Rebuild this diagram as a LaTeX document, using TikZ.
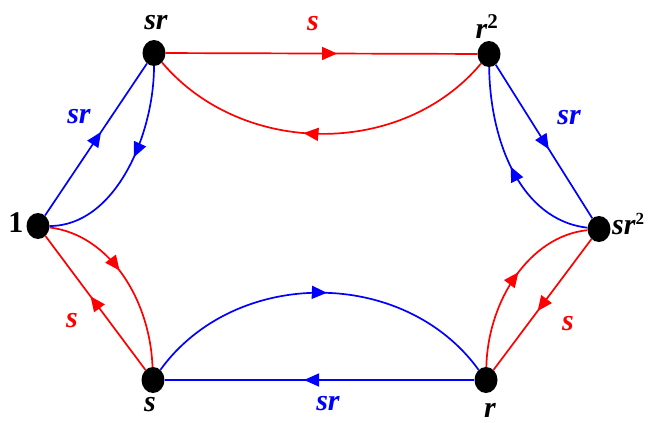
\documentclass[tikz,border=0pt]{standalone}
\usepackage{fontspec}
\setmainfont{Liberation Serif}
\usetikzlibrary{arrows.meta,decorations.markings,shapes.geometric}
\tikzset{
  dot/.style={ellipse, fill=black, draw=none, minimum width=23pt, minimum height=26pt, inner sep=0pt},
  lab/.style={font=\fontsize{30}{30}\selectfont\bfseries\itshape, inner sep=0pt, anchor=base},
  conn/.style={line width=1.7pt},
  midarrow/.style={postaction={decorate}, decoration={markings, mark=at position #1 with {\arrow{Triangle[length=15pt,width=13pt]}}}},
  midarrow/.default=0.55
}
\begin{document}
\begin{tikzpicture}[x=1pt,y=-1pt]
\useasboundingbox (0,0) rectangle (648,423);
% vertices
\node[dot] (sr)  at (154,53) {};
\node[dot] (r2)  at (489,54) {};
\node[dot] (one) at (38,226) {};
\node[dot] (sr2) at (599,229) {};
\node[dot] (s)   at (153,380) {};
\node[dot] (r)   at (486,380) {};
% vertex labels
\node[lab] (lsr)  at (156,29) {sr};
\node[lab] (lr2)  at (487,38) {r\textsuperscript{\upshape 2}};
\node[lab] (lone) at (16,232) {\upshape 1};
\node[lab, anchor=base west] (lsr2) at (612,234) {sr\textsuperscript{\fontsize{17}{17}\selectfont\upshape 2}};
\node[lab] (ls)   at (150,411) {s};
\node[lab] (lr)   at (490,417) {r};
% edges
\draw[conn,red,midarrow] (sr) -- (r2);
\draw[conn,red,midarrow] (r2) .. controls (402,158) and (242,157) .. (sr);
\draw[conn,blue,midarrow] (one) -- (sr);
\draw[conn,blue,midarrow=0.45] (sr) .. controls (154,135) and (115,226) .. (one);
\draw[conn,blue,midarrow] (r2) -- (sr2);
\draw[conn,blue,midarrow=0.5] (sr2) .. controls (520,220) and (490,140) .. (r2);
\draw[conn,red,midarrow=0.45] (one) .. controls (110,235) and (150,300) .. (s);
\draw[conn,red,midarrow] (s) -- (one);
\draw[conn,red,midarrow] (sr2) -- (r);
\draw[conn,red,midarrow=0.55] (r) .. controls (488,300) and (530,236) .. (sr2);
\draw[conn,blue,midarrow=0.52] (s) .. controls (235,267) and (404,267) .. (r);
\draw[conn,blue,midarrow] (r) -- (s);
% edge labels
\node[lab,red]  (e1) at (313,30) {s};
\node[lab,blue] (e2) at (79,123) {sr};
\node[lab,blue] (e3) at (569,124) {sr};
\node[lab,red]  (e4) at (72,327) {s};
\node[lab,red]  (e5) at (568,330) {s};
\node[lab,blue] (e6) at (328,410) {sr};
\end{tikzpicture}
\end{document}
